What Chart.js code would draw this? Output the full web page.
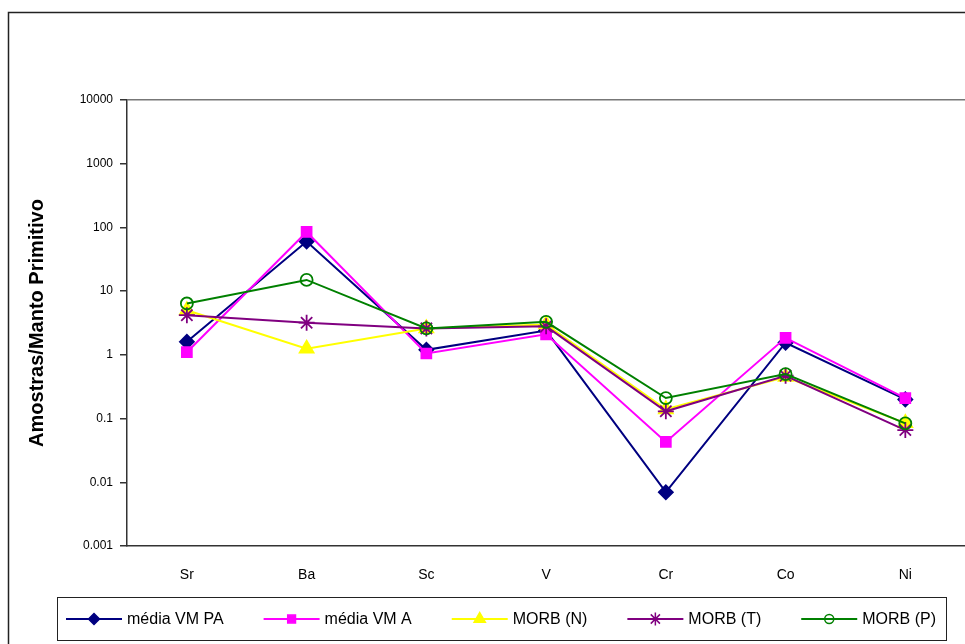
<!DOCTYPE html>
<html>
<head>
<meta charset="utf-8">
<script src="https://cdn.jsdelivr.net/npm/chart.js@4/dist/chart.umd.min.js"></script>
<style>
  html, body { margin: 0; padding: 0; background: #fff; overflow: hidden; }
  #wrap { width: 975px; height: 644px; }
</style>
</head>
<body>
<div id="wrap"><canvas id="c" width="975" height="644"></canvas></div>
<script>
const elements = ["Sr", "Ba", "Sc", "V", "Cr", "Co", "Ni"]
const yTickValues = [0.001, 0.01, 0.1, 1, 10, 100, 1000, 10000]
const yTickLabels = ["0.001", "0.01", "0.1", "1", "10", "100", "1000", "10000"]

const mediaVMPA = [1.6, 60, 1.2, 2.4, 0.007, 1.55, 0.2]
const mediaVMA = [1.1, 85, 1.05, 2.1, 0.043, 1.85, 0.21]
const morbN = [5.0, 1.25, 2.6, 3.0, 0.14, 0.45, 0.085]
const morbT = [4.2, 3.2, 2.6, 2.8, 0.13, 0.47, 0.066]
const morbP = [6.4, 15, 2.6, 3.3, 0.21, 0.5, 0.084]

const FONT = "'Liberation Sans', Arial, sans-serif"

function series(label, data, color, style, radius, fill, order) {
  return {
    label: label,
    data: data,
    borderColor: color,
    backgroundColor: color,
    borderWidth: 2,
    pointStyle: style,
    pointRadius: radius,
    pointBorderColor: color,
    pointBackgroundColor: fill,
    pointBorderWidth: 1.8,
    tension: 0,
    order: order,
  }
}

// outer chart border, only left and top show inside the window
const frame = {
  id: "frame",
  beforeDraw(chart) {
    const ctx = chart.ctx
    ctx.save()
    ctx.strokeStyle = "#222"
    ctx.lineWidth = 1.5
    ctx.strokeRect(8.5, 12.5, 1000, 700)
    ctx.restore()
  },
}

// Excel-style legend: line with marker in the middle, boxed
const legendBox = {
  id: "legendBox",
  afterDraw(chart) {
    const ctx = chart.ctx
    const box = { x: 57.5, y: 597.5, w: 889, h: 43 }
    ctx.save()
    ctx.fillStyle = "#fff"
    ctx.fillRect(box.x, box.y, box.w, box.h)
    ctx.strokeStyle = "#222"
    ctx.lineWidth = 1
    ctx.strokeRect(box.x, box.y, box.w, box.h)

    ctx.font = "16px " + FONT
    ctx.textBaseline = "middle"
    const symW = 56, gapT = 5
    const items = chart.data.datasets
    const widths = items.map((d) => symW + gapT + ctx.measureText(d.label).width)
    const start = 66, end = 936
    const gap = (end - start - widths.reduce((a, b) => a + b, 0)) / (items.length - 1)
    const cy = box.y + box.h / 2
    let x = start
    items.forEach((d, i) => {
      ctx.strokeStyle = d.borderColor
      ctx.lineWidth = 2
      ctx.beginPath()
      ctx.moveTo(x, cy)
      ctx.lineTo(x + symW, cy)
      ctx.stroke()
      ctx.fillStyle = d.pointBackgroundColor
      ctx.strokeStyle = d.borderColor
      ctx.lineWidth = 1.5
      Chart.helpers.drawPoint(ctx, { pointStyle: d.pointStyle, radius: d.pointRadius - 1.5, rotation: 0, borderWidth: 1.5 }, x + symW / 2, cy)
      ctx.fillStyle = "#000"
      ctx.fillText(d.label, x + symW + gapT, cy + 1)
      x += widths[i] + gap
    })
    ctx.restore()
  },
}

new Chart(document.getElementById("c"), {
  type: "line",
  data: {
    labels: elements,
    datasets: [
      series("média VM PA", mediaVMPA, "#000080", "rectRot", 7, "#000080", 5),
      series("média VM A", mediaVMA, "#FF00FF", "rect", 7, "#FF00FF", 4),
      series("MORB (N)", morbN, "#FFFF00", "triangle", 8, "#FFFF00", 3),
      series("MORB (T)", morbT, "#800080", "star", 8, "rgba(0,0,0,0)", 2),
      series("MORB (P)", morbP, "#008000", "circle", 6, "rgba(0,0,0,0)", 1),
    ],
  },
  options: {
    responsive: false,
    animation: false,
    layout: { padding: { left: 8, right: 8, top: 100, bottom: 58 } },
    plugins: {
      legend: { display: false },
      tooltip: { enabled: false },
    },
    scales: {
      x: {
        type: "category",
        offset: true,
        grid: { display: false, drawTicks: false },
        border: { display: true, color: "#333", width: 1.5 },
        ticks: { color: "#000", font: { family: FONT, size: 14 }, padding: 21 },
        afterFit(scale) { scale.height = 40 },
      },
      y: {
        type: "logarithmic",
        min: 0.001,
        max: 10000,
        afterBuildTicks(scale) {
          scale.ticks = yTickValues.map((v) => ({ value: v }))
        },
        afterFit(scale) { scale.width = 119 },
        grid: {
          drawOnChartArea: true,
          color: (c) => (c.tick && c.tick.value === 10000 ? "#777" : "rgba(0,0,0,0)"),
          tickColor: "#333",
          tickLength: 7,
          lineWidth: 1.5,
        },
        border: { display: true, color: "#333", width: 1.5 },
        ticks: {
          color: "#000",
          font: { family: FONT, size: 12 },
          padding: 7,
          autoSkip: false,
          callback: (v) => {
            const i = yTickValues.indexOf(v)
            return i >= 0 ? yTickLabels[i] : ""
          },
        },
        title: {
          display: true,
          text: "Amostras/Manto Primitivo",
          color: "#000",
          font: { family: FONT, size: 20, weight: "bold" },
          padding: { top: 17, bottom: 0 },
        },
      },
    },
  },
  plugins: [frame, legendBox],
})
</script>
</body>
</html>
